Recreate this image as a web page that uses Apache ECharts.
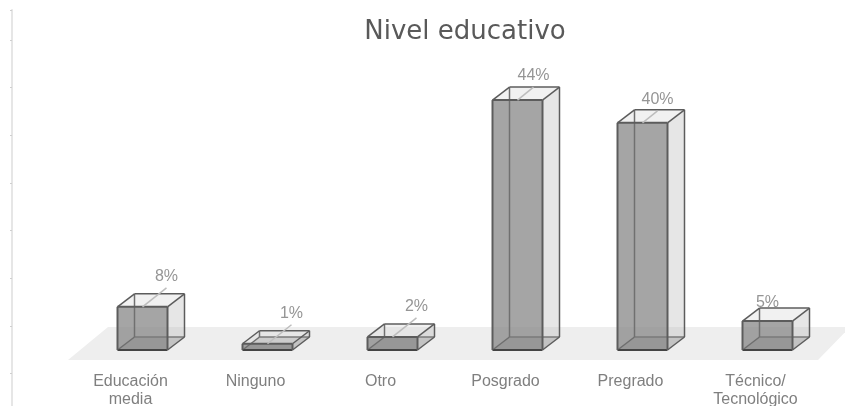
<!DOCTYPE html>
<html>
<head>
<meta charset="utf-8">
<style>html,body{margin:0;padding:0;background:#fff}#chart{width:845px;height:406px}</style>
<script src="https://cdn.jsdelivr.net/npm/echarts@6/dist/echarts.min.js"></script>
</head>
<body>
<div id="chart"></div>
<script>
var categories = ['Educación\nmedia', 'Ninguno', 'Otro', 'Posgrado', 'Pregrado', 'Técnico/\nTecnológico'];
var values = [7.6, 1.1, 2.3, 44, 40, 5.1];
var labelDx = [24, 24, 24, 16, 15, 0];
var labelDy = [-30, -30, -30, -24, -23, -18];

var edge = '#5c5c5c';
var depthX = 17;
var depthY = -13;

function poly(points, fill) {
	return { type: 'polygon', shape: { points: points }, style: { fill: fill, stroke: 'none' } };
}
function seg(a, b, color, width) {
	return {
		type: 'line',
		shape: { x1: a[0], y1: a[1], x2: b[0], y2: b[1] },
		style: { stroke: color, lineWidth: width }
	};
}

function renderBar(params, api) {
	var i = api.value(0);
	var base = api.coord([i, 0]);
	var top = api.coord([i, api.value(1)]);
	var w = api.size([1, 0])[0] * 0.4;
	var l = base[0] - w / 2, r = base[0] + w / 2;
	var y0 = base[1], y1 = top[1];
	var dx = depthX, dy = depthY;
	var children = [
		// piso de la caja, frente, lado y tapa
		poly([[l, y0], [r, y0], [r + dx, y0 + dy], [l + dx, y0 + dy]], 'rgba(150,150,150,0.45)'),
		poly([[l, y0], [r, y0], [r, y1], [l, y1]], 'rgba(135,135,135,0.75)'),
		poly([[r, y0], [r + dx, y0 + dy], [r + dx, y1 + dy], [r, y1]], 'rgba(190,190,190,0.38)'),
		poly([[l, y1], [r, y1], [r + dx, y1 + dy], [l + dx, y1 + dy]], 'rgba(215,215,215,0.35)'),
		// aristas traseras, se ven a traves del frente
		seg([l + dx, y0 + dy], [r + dx, y0 + dy], '#7a7a7a', 1.5),
		seg([l, y0], [l + dx, y0 + dy], '#6e6e6e', 1.5),
		seg([l + dx, y0 + dy], [l + dx, y1 + dy], '#707070', 1.5),
		seg([l, y0], [r, y0], '#444', 2),
		seg([l, y0], [l, y1], edge, 2),
		seg([r, y0], [r, y1], edge, 2),
		seg([l, y1], [r, y1], edge, 2),
		seg([r, y0], [r + dx, y0 + dy], edge, 1.5),
		seg([r + dx, y0 + dy], [r + dx, y1 + dy], edge, 1.5),
		seg([l, y1], [l + dx, y1 + dy], edge, 1.5),
		seg([r, y1], [r + dx, y1 + dy], edge, 1.5),
		seg([l + dx, y1 + dy], [r + dx, y1 + dy], edge, 1.5)
	];
	var ox = labelDx[i], oy = labelDy[i];
	if (ox > 0) {
		children.push(seg([base[0], y1], [base[0] + ox, y1 + oy + 11], '#bdbdbd', 1.5));
	}
	children.push({
		type: 'text',
		style: {
			x: base[0] + ox,
			y: y1 + oy,
			text: Math.round(api.value(1)) + '%',
			fill: '#959595',
			font: '16px "Liberation Sans"',
			align: 'center',
			verticalAlign: 'middle'
		}
	});
	return { type: 'group', children: children };
}

// piso gris debajo de las columnas
function renderFloor(params) {
	var c = params.coordSys;
	var b = c.y + c.height;
	return {
		type: 'polygon',
		shape: {
			points: [[c.x - 12, b + 10], [c.x + 28, b - 23], [c.x + c.width + 20, b - 23], [c.x + c.width - 12, b + 10]]
		},
		style: { fill: '#eeeeee' }
	};
}

var chart = echarts.init(document.getElementById('chart'), null, { renderer: 'canvas' });
chart.setOption({
	animation: false,
	backgroundColor: '#fff',
	title: {
		text: 'Nivel educativo',
		left: 465,
		top: 14,
		textAlign: 'center',
		textStyle: { color: '#595959', fontSize: 26, fontWeight: 'normal', fontFamily: 'DejaVu Sans' }
	},
	grid: [
		{ left: 80, right: 15, top: 66, bottom: 56, outerBoundsMode: 'none' },
		{ left: 12, width: 1, top: 10, bottom: -15, outerBoundsMode: 'none' }
	],
	xAxis: [
		{
			type: 'category',
			data: categories,
			gridIndex: 0,
			axisLine: { show: false },
			axisTick: { show: false },
			axisLabel: {
				margin: 23,
				interval: 0,
				padding: [0, 24, 0, 0],
				color: '#7f7f7f',
				fontSize: 16,
				lineHeight: 18,
				fontFamily: 'Liberation Sans'
			}
		},
		{ type: 'value', gridIndex: 1, show: false }
	],
	yAxis: [
		{ type: 'value', gridIndex: 0, min: 0, max: 50, show: false },
		{
			type: 'value',
			gridIndex: 1,
			min: 0,
			max: 8.63,
			interval: 1,
			axisLine: { show: true, lineStyle: { color: '#e6e6e6', width: 2 } },
			axisTick: { show: true, length: 2, lineStyle: { color: '#cfcfcf' } },
			axisLabel: { show: false },
			splitLine: { show: false }
		}
	],
	series: [
		{ type: 'custom', data: [0], xAxisIndex: 0, yAxisIndex: 0, z: 1, silent: true, renderItem: renderFloor, encode: { x: 0 } },
		{
			type: 'custom',
			data: values.map(function(v, i) { return [i, v]; }),
			xAxisIndex: 0,
			yAxisIndex: 0,
			z: 2,
			renderItem: renderBar,
			encode: { x: 0, y: 1 }
		}
	]
});
chart.setOption({ title: { left: 460 } });
</script>
</body>
</html>
